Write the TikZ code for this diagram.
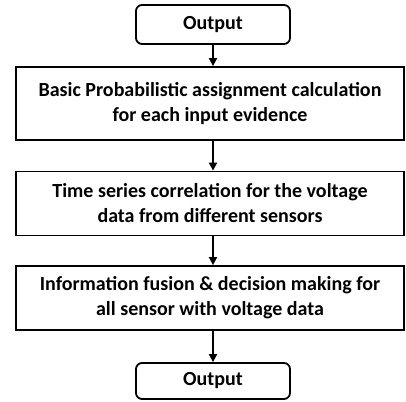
\documentclass[tikz,border=0pt]{standalone}
\usepackage{fontspec}
\setmainfont{Carlito}
\usetikzlibrary{arrows.meta}
\begin{document}
\begin{tikzpicture}[x=1pt,y=1pt,
  every node/.style={font=\fontsize{20}{25}\selectfont\bfseries, align=center, inner sep=0pt},
  termbox/.style={draw, line width=1.8pt, rounded corners=6pt, minimum width=154pt},
  procbox/.style={draw, line width=1.8pt, minimum width=388pt},
  flow/.style={line width=1.8pt, -{Triangle[width=8pt,length=8pt]}}]
\useasboundingbox (0,0) rectangle (406,401);
\node[termbox, minimum height=39pt] (out1) at (213,376.5) {Output};
\node[procbox, minimum height=73pt] (b1) at (210,297.5) {Basic Probabilistic assignment calculation\\for each input evidence};
\node[procbox, minimum height=64pt] (b2) at (210,197.5) {Time series correlation for the voltage\\data from different sensors};
\node[procbox, minimum height=64pt] (b3) at (210,103) {Information fusion \& decision making for\\all sensor with voltage data};
\node[termbox, minimum height=36pt] (out2) at (213,20) {Output};
\draw[flow] (out1.south) -- (out1.south |- b1.north);
\draw[flow] (out1.south |- b1.south) -- (out1.south |- b2.north);
\draw[flow] (out1.south |- b2.south) -- (out1.south |- b3.north);
\draw[flow] (out1.south |- b3.south) -- (out2.north);
\end{tikzpicture}
\end{document}
